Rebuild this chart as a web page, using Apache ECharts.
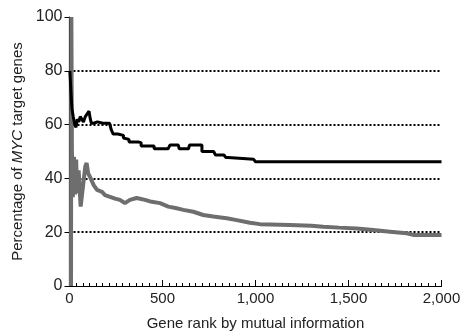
<!DOCTYPE html>
<html>
<head>
<meta charset="utf-8">
<script src="https://cdn.jsdelivr.net/npm/echarts@6/dist/echarts.min.js"></script>
<style>html,body{margin:0;padding:0;background:#fff}#c{width:462px;height:331px}</style>
</head>
<body>
<div id="c"></div>
<script>
// Top-ranked MYC-target curve (black) : [gene rank, percentage]
const blackRank = [2,8,13,20,28,35,42,50,58,66,75,85,95,105,112,118,130,150,180,215,225,235,260,290,300,320,370,385,440,455,530,540,585,590,640,645,695,712,775,785,830,840,852,990,1000,2000];
const blackPct  = [80,72,66,63,60,59,62,61,63,62,61,63,64,65,62,60.5,61,60.5,60.5,60.5,58,56.5,56,55,54.5,53.5,53.3,52,52,51,51,52.4,52.4,51,51,52.4,52.4,50,50,48.7,48.7,47.8,47.1,47.1,46.2,46.2];
// Comparison curve (grey)
const greyRank = [8,10,13,18,24,30,36,40,49,60,74,85,92,100,110,130,148,175,191,245,271,298,325,361,406,442,487,531,570,612,666,719,773,845,899,970,1024,1185,1300,1364,1450,1544,1633,1723,1813,1848,1920,2000];
const greyPct  = [0,100,50,33,48,34,47,34.5,43,29.5,38,44.4,45.7,42,40.6,37.5,35.7,35,33.8,32.5,32,30.8,32,32.7,32,31.3,30.8,29.5,29,28.3,27.6,26.4,25.8,25.2,24.5,23.5,23,22.7,22.4,22,21.7,21.4,20.8,20.2,19.6,19,19,19];
// Axis ticks
const xTicks = [0,500,1000,1500,2000];
const yTicks = [0,20,40,60,80,100];

const zip = (a,b) => a.map((v,i)=>[v,b[i]]);
const fmt = v => v >= 1000 ? Math.floor(v/1000) + ',' + String(v%1000).padStart(3,'0') : String(v);

const chart = echarts.init(document.getElementById('c'), null, {renderer:'canvas'});
const font = 'Liberation Sans, Arial, sans-serif';
chart.setOption({
  animation: false,
  backgroundColor: '#fff',
  grid: {left: 69.5, right: 20.5, top: 17, bottom: 45, containLabel: false, outerBoundsMode: 'none'},
  xAxis: {
    type: 'value', min: xTicks[0], max: xTicks[xTicks.length-1], interval: 500,
    axisLine: {lineStyle: {color: '#000', width: 1.2}},
    axisTick: {inside: true, length: 6, lineStyle: {color: '#000'}},
    minorTick: {show: true, splitNumber: 14, length: 3, lineStyle: {color: '#000'}},
    axisLabel: {formatter: fmt, color: '#222', fontFamily: font, fontSize: 15, margin: 5},
    splitLine: {show: false},
    name: 'Gene rank by mutual information', nameLocation: 'middle', nameGap: 30,
    nameTextStyle: {color: '#222', fontFamily: font, fontSize: 15}
  },
  yAxis: {
    type: 'value', min: yTicks[0], max: yTicks[yTicks.length-1], interval: 20,
    axisLine: {show: true, lineStyle: {color: '#000', width: 1.2}},
    axisTick: {show: true, length: 5, lineStyle: {color: '#000'}},
    axisLabel: {color: '#222', fontFamily: font, fontSize: 16, margin: 7},
    splitLine: {show: true, showMinLine: false, showMaxLine: false, lineStyle: {color: '#000', type: [2,2], width: 2}},
    name: '{a|Percentage of }{b|MYC}{a| target genes}', nameLocation: 'middle', nameGap: 41, nameRotate: 90,
    nameTextStyle: {color: '#222', fontFamily: font, fontSize: 15,
      rich: {a: {fontFamily: font, fontSize: 15, color: '#222'}, b: {fontFamily: font, fontSize: 15, color: '#222', fontStyle: 'italic'}}}
  },
  series: [
    {type: 'line', data: zip(greyRank, greyPct), symbol: 'none',
     lineStyle: {color: '#6e6e6e', width: 4}, z: 3},
    {type: 'line', data: zip(blackRank, blackPct), step: 'end', symbol: 'none',
     lineStyle: {color: '#000', width: 3}, z: 5}
  ]
});
</script>
</body>
</html>
